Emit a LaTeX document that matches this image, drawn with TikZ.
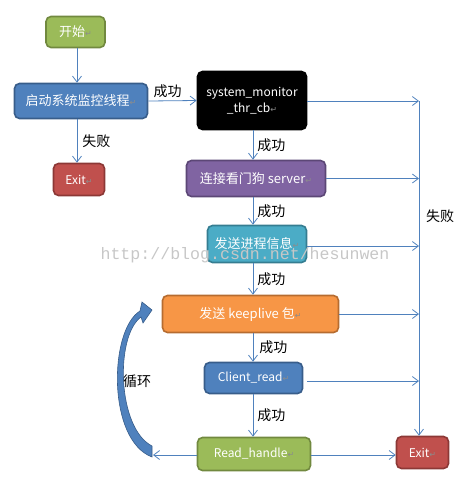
\documentclass[tikz,border=0pt]{standalone}
\usepackage{fontspec}
\setmainfont{Noto Sans CJK SC}
\newfontfamily\markfont{DejaVu Sans}
\newfontfamily\wmfont{Liberation Mono}
\usepackage{tikz}
\usetikzlibrary{arrows.meta,positioning}
\definecolor{lineblue}{RGB}{79,129,189}
\definecolor{greenfill}{RGB}{155,187,89}
\definecolor{greenedge}{RGB}{113,137,63}
\definecolor{bluefill}{RGB}{79,129,189}
\definecolor{blueedge}{RGB}{56,93,138}
\definecolor{redfill}{RGB}{192,80,77}
\definecolor{rededge}{RGB}{140,56,54}
\definecolor{purplefill}{RGB}{128,100,162}
\definecolor{purpleedge}{RGB}{92,71,118}
\definecolor{tealfill}{RGB}{75,172,198}
\definecolor{tealedge}{RGB}{53,125,145}
\definecolor{orangefill}{RGB}{247,150,70}
\definecolor{orangeedge}{RGB}{182,108,48}
\definecolor{markgray}{RGB}{140,140,140}
\newcommand{\pmark}{{\markfont\fontsize{8}{8}\selectfont\textcolor{markgray}{↵}}}

\begin{document}
\begin{tikzpicture}[
  x=1pt, y=-1pt,
  font=\fontsize{13}{15}\selectfont,
  box/.style={rectangle, rounded corners=5pt, line width=1.6pt, text=white, align=center, inner sep=0pt},
  latin/.style={font=\fontsize{12}{16}\selectfont},
  lbl/.style={font=\fontsize{14}{16}\selectfont, text=black, inner sep=0pt},
  arr/.style={-{Straight Barb[length=6pt,width=9pt]}, draw=lineblue, line width=0.8pt}
]
\useasboundingbox (0,0) rectangle (470,491);
% left column
\node[box, fill=greenfill, draw=greenedge, minimum width=59pt, minimum height=31pt] (start) at (75.5,32) {开始\pmark};
\node[box, fill=bluefill, draw=blueedge, minimum width=133pt, minimum height=35pt] (launch) at (81,101) {启动系统监控线程\pmark};
\node[box, latin, fill=redfill, draw=rededge, minimum width=51pt, minimum height=32pt] (exitA) at (79,179.5) {Exit\pmark};
% middle column
\node[box, latin, fill=black, draw=black, minimum width=109pt, minimum height=58pt] (sysmon) at (252,100.5) {system\_monitor\\\_thr\_cb\pmark};
\node[box, fill=purplefill, draw=purpleedge, minimum width=139pt, minimum height=36pt] (server) at (256,178.5) {连接看门狗 server\pmark};
\node[box, fill=tealfill, draw=tealedge, minimum width=99pt, minimum height=37pt] (info) at (257,244) {发送进程信息\pmark};
\node[box, fill=orangefill, draw=orangeedge, minimum width=176pt, minimum height=37pt] (keep) at (250.5,314) {发送 keeplive 包\pmark};
\node[box, latin, fill=bluefill, draw=blueedge, minimum width=98pt, minimum height=31pt] (client) at (253.5,378) {Client\_read\pmark};
\node[box, latin, fill=greenfill, draw=greenedge, minimum width=113pt, minimum height=33pt] (rhandle) at (254,454) {Read\_handle\pmark};
\node[box, latin, fill=redfill, draw=rededge, minimum width=52pt, minimum height=32pt] (exitB) at (422.5,452.5) {Exit\pmark};
% helper points
\coordinate (lcol) at (77,0);
\coordinate (mcol) at (253,0);
\coordinate (rail) at (419,101);
\coordinate (loopend) at (153,455);
% left arrows
\draw[arr] (start.south -| lcol) -- (launch.north -| lcol);
\draw[arr] (launch.south -| lcol) -- node[lbl, right=5pt] {失败} (exitA.north -| lcol);
\draw[arr] (launch.east) -- node[lbl, above=3pt, pos=0.4] {成功} (sysmon.west);
% success chain
\draw[arr] (sysmon.south -| mcol) -- node[lbl, right=4pt] {成功} (server.north -| mcol);
\draw[arr] (server.south -| mcol) -- node[lbl, right=4pt] {成功} (info.north -| mcol);
\draw[arr] (info.south -| mcol) -- node[lbl, right=4pt] {成功} (keep.north -| mcol);
\draw[arr] (keep.south -| mcol) -- node[lbl, right=6pt] {成功} (client.north -| mcol);
\draw[arr] (client.south -| mcol) -- node[lbl, right=4pt] {成功} (rhandle.north -| mcol);
% failure rail
\draw[arr] (sysmon.east |- rail) -- (rail);
\draw[arr] (server.east) -- (server.east -| rail);
\draw[arr] (info.east |- 0,246) -- (rail |- 0,246);
\draw[arr] (keep.east) -- (keep.east -| rail);
\draw[arr] ([xshift=4pt]client.east |- 0,381) -- (rail |- 0,381);
\draw[arr] (rail) -- (rail |- exitB.north);
\node[lbl] (fail) at (440,216) {失败};
\draw[arr] (rhandle.east |- 0,455) -- (exitB.west |- 0,455);
\draw[arr] (rhandle.west |- 0,455) -- (loopend);
% loop arrow
\fill[bluefill, draw=blueedge, line width=0.6pt] (152,446) .. controls (117,428) and (115,336) .. (141,317)
  -- (143,323) -- (152,310) -- (142,302) -- (140,311)
  .. controls (109,330) and (107,440) .. (152,457) -- cycle;
\node[lbl] (loop) at (137,381) {循环};
% watermark
\node[font=\wmfont\fontsize{16.6}{18}\selectfont, text=black!22, inner sep=0pt] (wm) at (245,255) {http://blog.csdn.net/hesunwen};
\end{tikzpicture}
\end{document}
